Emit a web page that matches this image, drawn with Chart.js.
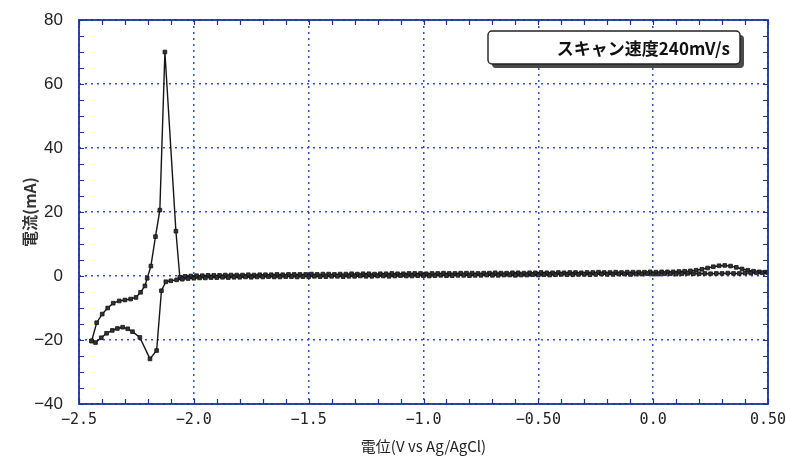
<!DOCTYPE html>
<html>
<head>
<meta charset="utf-8">
<script src="https://cdn.jsdelivr.net/npm/chart.js@4/dist/chart.umd.min.js"></script>
<style>
  html, body { margin: 0; padding: 0; background: #fff; }
  canvas { display: block; }
</style>
</head>
<body>
<canvas id="cv" width="786" height="467"></canvas>
<script>
// Cyclic voltammogram, scan rate 240 mV/s
const scanLabel = 'スキャン速度240mV/s';

// Cathodic sweep: 0.5 V down to the turning point at -2.445 V
const cathodicV = [
  0.5, 0.475, 0.45, 0.425, 0.4, 0.375, 0.35, 0.325, 0.3, 0.275,
  0.25, 0.225, 0.2, 0.175, 0.15, 0.125, 0.1, 0.075, 0.05, 0.025,
  0, -0.025, -0.05, -0.075, -0.1, -0.125, -0.15, -0.175, -0.2, -0.225,
  -0.25, -0.275, -0.3, -0.325, -0.35, -0.375, -0.4, -0.425, -0.45, -0.475,
  -0.5, -0.525, -0.55, -0.575, -0.6, -0.625, -0.65, -0.675, -0.7, -0.725,
  -0.75, -0.775, -0.8, -0.825, -0.85, -0.875, -0.9, -0.925, -0.95, -0.975,
  -1.0, -1.025, -1.05, -1.075, -1.1, -1.125, -1.15, -1.175, -1.2, -1.225,
  -1.25, -1.275, -1.3, -1.325, -1.35, -1.375, -1.4, -1.425, -1.45, -1.475,
  -1.5, -1.525, -1.55, -1.575, -1.6, -1.625, -1.65, -1.675, -1.7, -1.725,
  -1.75, -1.775, -1.8, -1.825, -1.85, -1.875, -1.9, -1.925, -1.95, -1.975,
  -2.0, -2.025, -2.05, -2.075, -2.1,
  -2.122, -2.141, -2.162, -2.191, -2.235, -2.267, -2.288, -2.31, -2.333, -2.355,
  -2.38, -2.403, -2.428, -2.445
];
const cathodicI = [
  1.1, 1.0, 1.0, 0.9, 0.9, 0.8, 0.8, 0.9, 0.8, 0.8,
  0.7, 0.8, 0.7, 0.7, 0.8, 0.7, 0.6, 0.7, 0.7, 0.6,
  0.6, 0.7, 0.6, 0.6, 0.5, 0.6, 0.6, 0.5, 0.5, 0.6,
  0.5, 0.4, 0.5, 0.5, 0.4, 0.4, 0.5, 0.4, 0.3, 0.4,
  0.3, 0.4, 0.3, 0.3, 0.2, 0.3, 0.3, 0.2, 0.2, 0.3,
  0.2, 0.2, 0.1, 0.2, 0.2, 0.1, 0.1, 0.2, 0.1, 0.0,
  0.1, 0.1, 0.0, 0.0, 0.1, 0.0, -0.1, 0.0, 0.0, -0.1,
  -0.1, 0.0, -0.1, -0.1, -0.2, -0.1, -0.1, -0.2, -0.2, -0.1,
  -0.2, -0.2, -0.3, -0.2, -0.2, -0.3, -0.3, -0.2, -0.3, -0.3,
  -0.4, -0.3, -0.4, -0.4, -0.5, -0.4, -0.5, -0.5, -0.6, -0.6,
  -0.7, -0.8, -1.0, -1.2, -1.5,
  -1.8, -4.6, -23.3, -25.9, -19.2, -17.4, -16.5, -16.0, -16.4, -17.0,
  -17.9, -19.3, -20.8, -20.3
];

// Anodic sweep: back from -2.445 V up to 0.5 V
const anodicV = [
  -2.445, -2.423, -2.399, -2.375, -2.351, -2.325, -2.3, -2.275, -2.252, -2.232,
  -2.213, -2.203, -2.187, -2.167, -2.148, -2.126, -2.078, -2.061,
  -2.038, -2.013, -1.988, -1.963, -1.938, -1.913, -1.888, -1.863, -1.838, -1.813,
  -1.788, -1.763, -1.738, -1.713, -1.688, -1.663, -1.638, -1.613, -1.588, -1.563,
  -1.538, -1.513, -1.488, -1.463, -1.438, -1.413, -1.388, -1.363, -1.338, -1.313,
  -1.288, -1.263, -1.238, -1.213, -1.188, -1.163, -1.138, -1.113, -1.088, -1.063,
  -1.038, -1.013, -0.988, -0.963, -0.938, -0.913, -0.888, -0.863, -0.838, -0.813,
  -0.788, -0.763, -0.738, -0.713, -0.688, -0.663, -0.638, -0.613, -0.588, -0.563,
  -0.538, -0.513, -0.488, -0.463, -0.438, -0.413, -0.388, -0.363, -0.338, -0.313,
  -0.288, -0.263, -0.238, -0.213, -0.188, -0.163, -0.138, -0.113, -0.088, -0.063,
  -0.038, -0.013, 0.012, 0.037, 0.062, 0.087, 0.112, 0.137, 0.162, 0.187,
  0.212, 0.237, 0.262, 0.287, 0.312, 0.337, 0.362, 0.387, 0.412, 0.437,
  0.462, 0.487, 0.5
];
const anodicI = [
  -20.3, -14.6, -11.9, -10.0, -8.5, -7.8, -7.5, -7.2, -6.7, -5.1,
  -3.1, -0.7, 3.1, 12.3, 20.6, 70.0, 14.0, -0.4,
  -0.1, 0.0, 0.1, 0.1, 0.2, 0.2, 0.2, 0.3, 0.3, 0.3,
  0.3, 0.4, 0.3, 0.4, 0.4, 0.4, 0.5, 0.4, 0.5, 0.5,
  0.5, 0.5, 0.6, 0.5, 0.6, 0.6, 0.5, 0.6, 0.6, 0.7,
  0.6, 0.7, 0.7, 0.6, 0.7, 0.7, 0.8, 0.7, 0.7, 0.8,
  0.8, 0.8, 0.7, 0.8, 0.8, 0.9, 0.8, 0.8, 0.9, 0.9,
  0.9, 0.8, 0.9, 0.9, 1.0, 0.9, 0.9, 1.0, 1.0, 0.9,
  1.0, 1.0, 1.1, 1.0, 1.0, 1.1, 1.0, 1.1, 1.1, 1.0,
  1.1, 1.1, 1.2, 1.1, 1.1, 1.2, 1.1, 1.2, 1.2, 1.2,
  1.2, 1.3, 1.2, 1.3, 1.3, 1.3, 1.4, 1.5, 1.6, 1.8,
  2.1, 2.5, 2.9, 3.2, 3.3, 3.1, 2.7, 2.2, 1.8, 1.5,
  1.3, 1.2, 1.2
];

// Axis labels
const xTickLabels = ['\u22122.5', '\u22122.0', '\u22121.5', '\u22121.0', '\u22120.50', '0.0', '0.50'];
const yTickLabels = ['\u221240', '\u221220', '0', '20', '40', '60', '80'];
const xTitle = '電位(V vs Ag/AgCl)';
const yTitle = '電流(mA)';

const frameBlue = '#1b3597';
const gridBlue = '#2d52c4';

const toPoints = (vs, is) => vs.map((v, i) => ({ x: v, y: is[i] }));

const isMultiple = (v, step) => Math.abs(v / step - Math.round(v / step)) < 1e-6;

function sweep(data) {
  return {
    data,
    showLine: true,
    borderColor: '#151515',
    borderWidth: 1.4,
    pointStyle: 'rect',
    pointRadius: 2.6,
    pointBackgroundColor: '#333',
    pointBorderColor: '#111',
    pointBorderWidth: 0.8
  };
}

// Plot frame with small inward ticks on every side
const frameTicks = {
  id: 'frameTicks',
  afterDatasetsDraw(chart) {
    const { ctx, chartArea: a, scales } = chart;
    const len = 5;
    ctx.save();
    ctx.strokeStyle = frameBlue;
    ctx.lineWidth = 1.2;
    ctx.beginPath();
    scales.x.ticks.forEach(t => {
      const px = Math.round(scales.x.getPixelForValue(t.value)) + 0.5;
      ctx.moveTo(px, a.bottom); ctx.lineTo(px, a.bottom - len);
      ctx.moveTo(px, a.top); ctx.lineTo(px, a.top + len);
    });
    scales.y.ticks.forEach(t => {
      const py = Math.round(scales.y.getPixelForValue(t.value)) + 0.5;
      ctx.moveTo(a.left, py); ctx.lineTo(a.left + len, py);
      ctx.moveTo(a.right, py); ctx.lineTo(a.right - len, py);
    });
    ctx.stroke();
    ctx.lineWidth = 1.8;
    ctx.strokeRect(a.left, a.top, a.right - a.left, a.bottom - a.top);
    ctx.restore();
  }
};

// Scan-rate note in a shadowed box, upper right of the plot
const scanNote = {
  id: 'scanNote',
  afterDraw(chart) {
    const { ctx, chartArea: a } = chart;
    const w = 252, h = 33;
    const x = a.right - 28 - w, y = a.top + 11;
    ctx.save();
    ctx.fillStyle = '#4a4a4a';
    ctx.beginPath(); ctx.roundRect(x + 4, y + 4, w, h, 4); ctx.fill();
    ctx.fillStyle = '#fff';
    ctx.beginPath(); ctx.roundRect(x, y, w, h, 4); ctx.fill();
    ctx.strokeStyle = '#222';
    ctx.lineWidth = 1.4;
    ctx.stroke();
    ctx.font = 'bold 17px "Noto Sans CJK JP"';
    ctx.textAlign = 'right';
    ctx.textBaseline = 'middle';
    ctx.fillStyle = '#111';
    ctx.fillText(scanLabel, x + w - 10, y + h / 2 + 1);
    ctx.restore();
  }
};

new Chart(document.getElementById('cv'), {
  type: 'scatter',
  data: {
    datasets: [
      sweep(toPoints(cathodicV, cathodicI)),
      sweep(toPoints(anodicV, anodicI))
    ]
  },
  options: {
    responsive: false,
    animation: false,
    devicePixelRatio: 1,
    layout: { padding: { left: 0, right: 18, top: 20, bottom: 0 } },
    plugins: { legend: { display: false }, tooltip: { enabled: false } },
    scales: {
      x: {
        type: 'linear',
        min: -2.5,
        max: 0.5,
        // fixed axis height; end labels may overhang into the page margin
        afterFit: s => { s.height = 63; s.paddingLeft = 0; s.paddingRight = 0; },
        ticks: {
          stepSize: 0.1,
          autoSkip: false,
          maxRotation: 0,
          padding: 7,
          color: '#222',
          font: { family: '"DejaVu Sans Mono"', size: 15 },
          callback: v => isMultiple(v, 0.5) ? xTickLabels[Math.round((v + 2.5) * 2)] : ''
        },
        grid: {
          drawTicks: false,
          lineWidth: 1.5,
          color: c => (c.tick && isMultiple(c.tick.value, 0.5)) ? gridBlue : 'rgba(0,0,0,0)'
        },
        border: { display: false, dash: [2, 4] },
        title: {
          display: true,
          text: xTitle,
          color: '#222',
          font: { family: '"Noto Sans CJK JP"', size: 15 },
          padding: { top: 0, bottom: 12 }
        }
      },
      y: {
        type: 'linear',
        min: -40,
        max: 80,
        afterFit: s => { s.width = 79; s.paddingTop = 0; s.paddingBottom = 0; },
        ticks: {
          stepSize: 5,
          autoSkip: false,
          padding: 16,
          color: '#222',
          font: { family: '"Liberation Sans"', size: 17 },
          callback: v => isMultiple(v, 20) ? yTickLabels[Math.round((v + 40) / 20)] : ''
        },
        grid: {
          drawTicks: false,
          lineWidth: 1.5,
          color: c => (c.tick && isMultiple(c.tick.value, 20)) ? gridBlue : 'rgba(0,0,0,0)'
        },
        border: { display: false, dash: [2, 4] },
        title: {
          display: true,
          text: yTitle,
          color: '#333',
          font: { family: '"Noto Sans CJK JP"', size: 16, weight: 'bold' },
          padding: { top: 20, bottom: 0 }
        }
      }
    }
  },
  plugins: [frameTicks, scanNote]
});
</script>
</body>
</html>
